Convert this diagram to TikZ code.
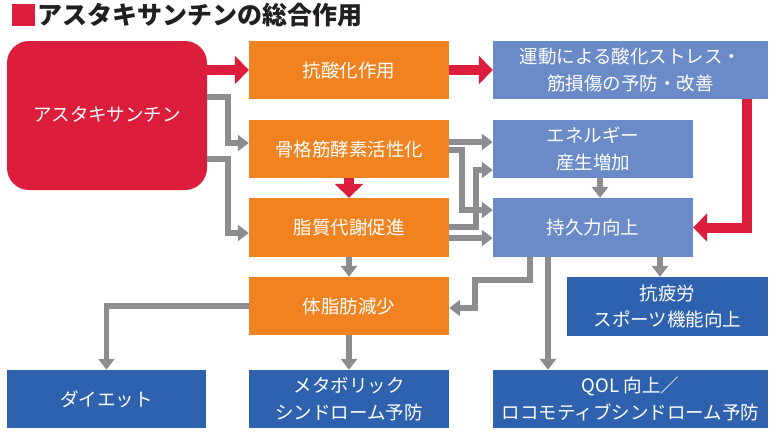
\documentclass[tikz,border=0pt]{standalone}
\usepackage{fontspec}
\setmainfont{Noto Sans CJK JP}
\usetikzlibrary{arrows.meta}
\definecolor{cred}{RGB}{220,30,60}
\definecolor{corange}{RGB}{240,130,32}
\definecolor{clblue}{RGB}{106,138,200}
\definecolor{cdblue}{RGB}{46,98,174}
\definecolor{cgray}{RGB}{140,141,145}
\definecolor{ctitle}{RGB}{35,31,32}
\tikzset{
  box/.style={minimum width=200pt, minimum height=58pt, inner sep=0pt, text=white, align=center,
    font=\fontsize{18.5}{26.5}\selectfont},
  obox/.style={box, fill=corange},
  lbox/.style={box, fill=clblue},
  dbox/.style={box, fill=cdblue},
  redarr/.style={draw=cred, line width=10pt, -{Triangle[width=28pt 0 0, length=14pt 0 0]}},
  grayarr/.style={draw=cgray, line width=5.5pt, -{Triangle[width=16pt 0 0, length=11pt 0 0]}},
}
\begin{document}
\begin{tikzpicture}[x=1pt,y=-1pt]
\useasboundingbox (0,0) rectangle (777,432);
% title
\fill[cred] (12,4) rectangle (35,26);
\node[anchor=west, inner sep=0pt, text=ctitle, font=\fontsize{25}{28}\selectfont\bfseries] (title) at (37,15.5) {アスタキサンチンの総合作用};
% nodes
\node[box, fill=cred, rounded corners=22pt, minimum width=200pt, minimum height=149pt] (rb) at (107,115.5) {\raisebox{4pt}{アスタキサンチン}};
\node[obox] (ox) at (349,70) {抗酸化作用};
\node[obox] (sk) at (349,149) {骨格筋酵素活性化};
\node[obox, minimum height=59pt] (lp) at (349,227.5) {脂質代謝促進};
\node[obox] (bf) at (349,306) {体脂肪減少};
\node[lbox, minimum width=275pt] (ex) at (630.5,70) {運動による酸化ストレス・\\筋損傷の予防・改善};
\node[lbox] (en) at (593,149) {エネルギー\\産生増加};
\node[lbox, minimum height=59pt] (en2) at (593,227.5) {持久力向上};
\node[dbox, minimum width=201pt, minimum height=59pt] (af) at (667.5,306.5) {抗疲労\\スポーツ機能向上};
\node[dbox, minimum width=199pt] (di) at (106.5,399) {ダイエット};
\node[dbox] (me) at (349,399) {メタボリック\\シンドローム予防};
\node[dbox, minimum width=275pt] (ql) at (630.5,399) {QOL 向上／\\ロコモティブシンドローム予防};
% red arrows
\draw[redarr] (rb.east |- ox.west) -- (ox.west);
\draw[redarr] (ox.east) -- (ex.west |- ox.east);
\draw[redarr] (sk.south) -- (lp.north);
\draw[redarr] (ex.south -| 747,0) |- (en2.east);
% gray arrows
\draw[grayarr] (rb.east |- 0,97) -- (228,97) -- (228,143) -- (sk.west |- 0,143);
\draw[grayarr] (rb.east |- 0,159) -- (228,159) -- (228,233) -- (lp.west |- 0,233);
\draw[grayarr] (sk.east |- 0,142) -- (en.west |- 0,142);
\draw[grayarr] (sk.east |- 0,150) -- (462,150) -- (462,210) -- (en2.west |- 0,210);
\draw[grayarr] (lp.east |- 0,227) -- (476,227) -- (476,170) -- (en.west |- 0,170);
\draw[grayarr] (lp.east |- 0,238) -- (en2.west |- 0,238);
\draw[grayarr] (en.south -| 600,0) -- (en2.north -| 600,0);
\draw[grayarr] (lp.south) -- (bf.north);
\draw[grayarr] (bf.west) -| (di.north);
\draw[grayarr] (bf.south) -- (me.north);
\draw[grayarr] (en2.south -| 530,0) -- (530,280) -- (475,280) -- (475,308) -- (bf.east |- 0,308);
\draw[grayarr] (en2.south -| 548,0) -- (ql.north -| 548,0);
\draw[grayarr] (en2.south -| 660,0) -- (af.north -| 660,0);
\end{tikzpicture}
\end{document}
